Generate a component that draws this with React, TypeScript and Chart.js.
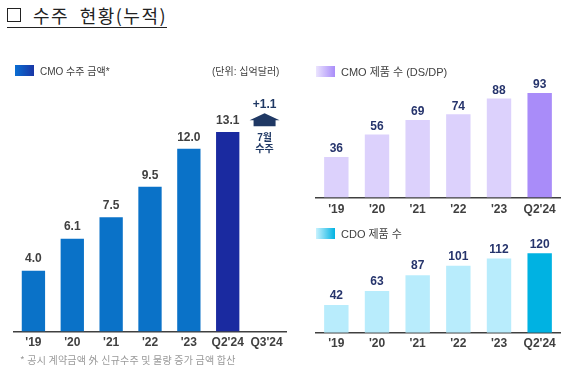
import React, { useEffect, useRef } from 'react';
import { Chart, registerables } from 'chart.js';
Chart.register(...registerables);

// ---- data ----
const orderCategories = ["'19", "'20", "'21", "'22", "'23", "Q2'24", "Q3'24"];
const orderValues: (number | null)[] = [4.0, 6.1, 7.5, 9.5, 12.0, 13.1, null];
const julyAddition = 1.1;
const productCategories = ["'19", "'20", "'21", "'22", "'23", "Q2'24"];
const cmoProducts = [36, 56, 69, 74, 88, 93];
const cdoProducts = [42, 63, 87, 101, 112, 120];

const LATIN = '"Liberation Sans", Arial, "Noto Sans CJK KR", sans-serif';
const AXIS = '#404040';

type Props = {
  left: number; top: number; width: number; height: number;
  labels: string[]; values: (number | null)[]; colors: string[];
  yMax: number; padding: { left: number; right: number; top: number; bottom: number };
  labelColor: string; labelOffset: number; tickPadding: number; decimals: number;
  extra?: any;
};

function BarChart(p: Props) {
  const ref = useRef<HTMLCanvasElement>(null);
  useEffect(() => {
    if (!ref.current) return;
    const valueLabels = {
      id: 'valueLabels',
      afterDatasetsDraw(chart: any) {
        const ctx = chart.ctx;
        const meta = chart.getDatasetMeta(0);
        ctx.save();
        ctx.font = `bold 12px ${LATIN}`;
        ctx.fillStyle = p.labelColor;
        ctx.textAlign = 'center';
        ctx.textBaseline = 'middle';
        meta.data.forEach((el: any, i: number) => {
          const v = p.values[i];
          if (v === null || v === undefined) return;
          ctx.fillText(v.toFixed(p.decimals), el.x, el.y - p.labelOffset);
        });
        ctx.restore();
      },
    };
    const plugins: any[] = [valueLabels];
    if (p.extra) plugins.push(p.extra);
    const chart = new Chart(ref.current, {
      type: 'bar',
      data: {
        labels: p.labels,
        datasets: [{ data: p.values as any, backgroundColor: p.colors, barPercentage: 0.6, categoryPercentage: 1 }],
      },
      options: {
        responsive: false,
        animation: false,
        devicePixelRatio: 1,
        layout: { padding: p.padding },
        plugins: { legend: { display: false }, tooltip: { enabled: false } },
        scales: {
          x: {
            grid: { display: false, drawTicks: false },
            border: { display: true, color: AXIS, width: 1.5 },
            ticks: { color: AXIS, padding: p.tickPadding, font: { family: LATIN, size: 12, weight: 'bold' } },
          },
          y: { display: false, min: 0, max: p.yMax },
        },
      },
      plugins,
    });
    return () => chart.destroy();
  }, []);
  return (
    <canvas
      ref={ref}
      width={p.width}
      height={p.height}
      style={{ position: 'absolute', left: p.left, top: p.top, width: p.width, height: p.height }}
    />
  );
}

const arrowPlugin = {
  id: 'julyArrow',
  afterDraw(chart: any) {
    const ctx = chart.ctx;
    const xs = chart.scales.x;
    const ys = chart.scales.y;
    const base = orderValues[5] as number;
    const ax = xs.getPixelForValue(orderCategories.length - 1) - 2;
    const ay = ys.getPixelForValue(base + julyAddition) - 2;
    const navy = '#1f3864';
    ctx.save();
    ctx.fillStyle = navy;
    ctx.beginPath();
    ctx.moveTo(ax, ay);
    ctx.lineTo(ax + 15, ay + 7);
    ctx.lineTo(ax + 11, ay + 7);
    ctx.lineTo(ax + 11, ay + 13);
    ctx.lineTo(ax - 11, ay + 13);
    ctx.lineTo(ax - 11, ay + 7);
    ctx.lineTo(ax - 15, ay + 7);
    ctx.closePath();
    ctx.fill();
    ctx.textAlign = 'center';
    ctx.textBaseline = 'middle';
    ctx.font = `bold 12px ${LATIN}`;
    ctx.fillText('+' + julyAddition.toFixed(1), ax, ay - 9);
    ctx.font = `bold 10px ${LATIN}`;
    ctx.fillText('7월', ax, ay + 25);
    ctx.fillText('수주', ax, ay + 36);
    ctx.restore();
  },
};

function LegendItem({ x, y, text, grad, size }: { x: number; y: number; text: string; grad: string; size: number }) {
  return (
    <div style={{ position: 'absolute', left: x, top: y, height: 12, display: 'flex', alignItems: 'center', zIndex: 2 }}>
      <div style={{ width: 19, height: 11, background: grad }} />
      <span style={{ marginLeft: 6, fontFamily: LATIN, fontSize: size, color: '#404040', whiteSpace: 'nowrap' }}>{text}</span>
    </div>
  );
}

export default function App() {
  const blue = '#0a72c8';
  const blueDark = '#1a2aa0';
  const lav = '#dcd1fc';
  const lavDark = '#a98cf9';
  const cyan = '#b8ecfc';
  const cyanDark = '#00b2e2';
  return (
    <div style={{ position: 'absolute', left: 0, top: 0, width: 568, height: 369, background: '#fff', overflow: 'hidden' }}>
      <div
        style={{
          position: 'absolute', left: 7, top: 4, fontFamily: '"Noto Sans CJK KR", sans-serif', fontSize: 18,
          fontWeight: 400, letterSpacing: 1.5, wordSpacing: 5, color: '#222', whiteSpace: 'nowrap', lineHeight: '22px',
          borderBottom: '1.5px solid #222', paddingBottom: 1, display: 'flex', alignItems: 'center',
        }}
      >
        <span style={{ display: 'inline-block', width: 14, height: 14, border: '1.5px solid #222', boxSizing: 'border-box', marginRight: 12 }} />
        <span>수주 현황(누적)</span>
      </div>
      <LegendItem x={15} y={64} text="CMO 수주 금액*" grad={`linear-gradient(90deg, #0a6ed2, #1a36a6)`} size={10} />
      <div style={{ position: 'absolute', left: 212, top: 63, fontFamily: LATIN, fontSize: 10, color: '#404040', whiteSpace: 'nowrap', zIndex: 2 }}>
        (단위: 십억달러)
      </div>
      <LegendItem x={316} y={65} text="CMO 제품 수 (DS/DP)" grad={`linear-gradient(90deg, #ebe4fe, ${lavDark})`} size={11} />
      <LegendItem x={316} y={227} text="CDO 제품 수" grad={`linear-gradient(90deg, #c8f2fe, ${cyanDark})`} size={11} />
      <div style={{ position: 'absolute', left: 20, top: 352, fontFamily: '"Noto Sans CJK KR", sans-serif', fontSize: 10, letterSpacing: 0.2, color: '#9a9a9a', whiteSpace: 'nowrap', zIndex: 2 }}>
        * 공시 계약금액 外 신규수주 및 물량 증가 금액 합산
      </div>

      <BarChart
        left={0} top={0} width={300} height={369}
        labels={orderCategories} values={orderValues}
        colors={orderValues.map((_, i) => (i === 5 ? blueDark : blue))}
        yMax={15.2} padding={{ left: 14, right: 14, top: 100, bottom: 15 }}
        labelColor="#404040" labelOffset={11.5} tickPadding={4} decimals={1}
        extra={arrowPlugin}
      />
      <BarChart
        left={300} top={40} width={268} height={190}
        labels={productCategories} values={cmoProducts}
        colors={cmoProducts.map((_, i) => (i === 5 ? lavDark : lav))}
        yMax={100} padding={{ left: 16, right: 8, top: 45, bottom: 8 }}
        labelColor="#26346c" labelOffset={8} tickPadding={5} decimals={0}
      />
      <BarChart
        left={300} top={230} width={268} height={139}
        labels={productCategories} values={cdoProducts}
        colors={cdoProducts.map((_, i) => (i === 5 ? cyanDark : cyan))}
        yMax={140} padding={{ left: 16, right: 8, top: 10, bottom: 15 }}
        labelColor="#26346c" labelOffset={9} tickPadding={3.4} decimals={0}
      />
    </div>
  );
}
